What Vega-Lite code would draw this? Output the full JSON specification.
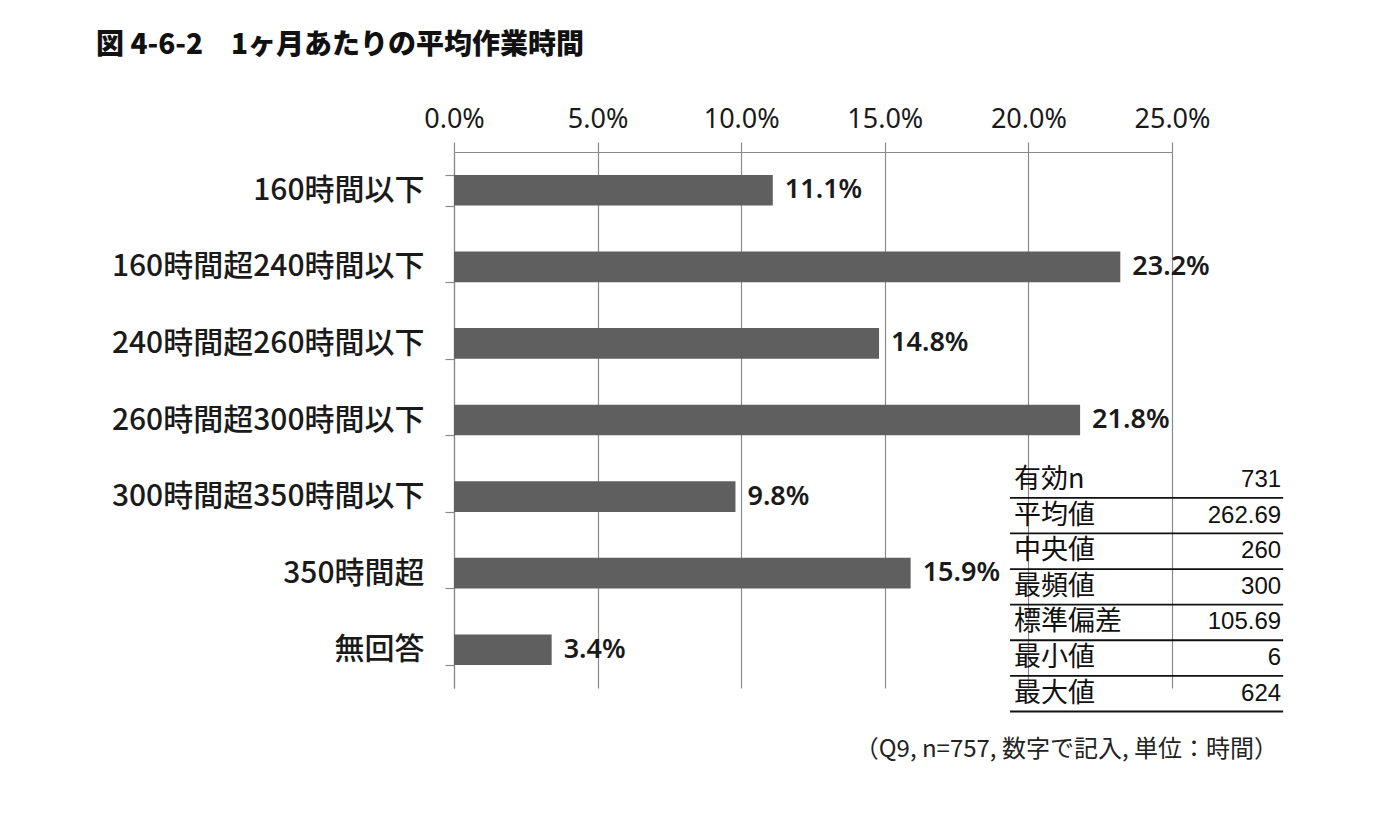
{
  "$schema": "https://vega.github.io/schema/vega-lite/v6.json",
  "autosize": "none",
  "width": 718,
  "height": 536,
  "padding": {"left": 454, "top": 152, "right": 208, "bottom": 126},
  "background": "white",
  "config": {"view": {"stroke": null}, "font": "Noto Sans CJK JP"},
  "title": {
    "text": "図 4-6-2　1ヶ月あたりの平均作業時間",
    "anchor": "start",
    "frame": "group",
    "dx": -358,
    "dy": -41,
    "fontSize": 28,
    "fontWeight": 900,
    "color": "#111111",
    "font": "Noto Sans CJK JP"
  },
  "datasets": {
    "bars": [
      {"category": "160時間以下", "pct": 0.111},
      {"category": "160時間超240時間以下", "pct": 0.232},
      {"category": "240時間超260時間以下", "pct": 0.148},
      {"category": "260時間超300時間以下", "pct": 0.218},
      {"category": "300時間超350時間以下", "pct": 0.098},
      {"category": "350時間超", "pct": 0.159},
      {"category": "無回答", "pct": 0.034}
    ],
    "table": [
      {"row": 1, "label": "有効n", "value": "731"},
      {"row": 2, "label": "平均値", "value": "262.69"},
      {"row": 3, "label": "中央値", "value": "260"},
      {"row": 4, "label": "最頻値", "value": "300"},
      {"row": 5, "label": "標準偏差", "value": "105.69"},
      {"row": 6, "label": "最小値", "value": "6"},
      {"row": 7, "label": "最大値", "value": "624"}
    ],
    "note": [
      {"note": "（Q9, n=757, 数字で記入, 単位：時間）"}
    ]
  },
  "layer": [
    {
      "data": {"name": "bars"},
      "encoding": {
        "y": {
          "field": "category",
          "type": "nominal",
          "sort": null,
          "scale": {"paddingInner": 0.6, "paddingOuter": 0.3},
          "axis": {
            "title": null,
            "tickBand": "extent",
            "domainColor": "#8a8a8a",
            "domainWidth": 1.2,
            "tickColor": "#8a8a8a",
            "tickSize": 9,
            "tickWidth": 1.2,
            "labelFontSize": 30,
            "labelFont": "Noto Sans CJK JP",
            "labelFontWeight": 500,
            "labelColor": "#1a1a1a",
            "labelPadding": 21,
            "labelLimit": 0
          }
        },
        "x": {
          "field": "pct",
          "type": "quantitative",
          "scale": {"domain": [0, 0.25], "nice": false},
          "axis": {
            "orient": "top",
            "title": null,
            "values": [0, 0.05, 0.1, 0.15, 0.2, 0.25],
            "format": ".1%",
            "grid": true,
            "gridColor": "#8a8a8a",
            "gridWidth": 1.2,
            "domainColor": "#8a8a8a",
            "domainWidth": 1.2,
            "tickColor": "#8a8a8a",
            "tickSize": 10,
            "tickWidth": 1.2,
            "labelFontSize": 27,
            "labelFont": "Noto Sans",
            "labelColor": "#1a1a1a",
            "labelPadding": 9,
            "labelFlush": false,
            "labelOverlap": false
          }
        }
      },
      "layer": [
        {"mark": {"type": "bar", "color": "#5f5f5f"}},
        {
          "mark": {"type": "text", "align": "left", "baseline": "middle", "dx": 12, "fontSize": 27, "font": "Noto Sans", "fontWeight": 600, "color": "#1a1a1a"},
          "encoding": {"text": {"field": "pct", "type": "quantitative", "format": ".1%"}}
        }
      ]
    },
    {
      "data": {"name": "table"},
      "encoding": {
        "y": {
          "field": "row",
          "type": "quantitative",
          "scale": {"domain": [-8.21, 6.84], "reverse": true, "nice": false, "zero": false},
          "axis": null
        }
      },
      "layer": [
        {
          "data": {"values": [{}]},
          "mark": {"type": "rect", "color": "white", "clip": false},
          "encoding": {
            "x": {"datum": 0.1936, "type": "quantitative", "scale": {"domain": [0, 0.25], "nice": false}},
            "x2": {"datum": 0.2887},
            "y": {"datum": 0.5, "type": "quantitative"},
            "y2": {"datum": 7.5}
          }
        },
        {
          "mark": {"type": "rule", "color": "#111111", "strokeWidth": 1.8, "yOffset": 17.8, "clip": false},
          "encoding": {
            "x": {"datum": 0.1936, "type": "quantitative"},
            "x2": {"datum": 0.2887}
          }
        },
        {
          "data": {"values": [{}]},
          "mark": {"type": "rule", "color": "#111111", "strokeWidth": 1.8, "clip": false},
          "encoding": {
            "x": {"datum": 0.1936, "type": "quantitative"},
            "x2": {"datum": 0.2887},
            "y": {"datum": 0.5, "type": "quantitative"}
          }
        },
        {
          "mark": {"type": "text", "align": "left", "baseline": "middle", "fontSize": 27, "font": "Noto Sans CJK JP", "color": "#111111", "clip": false},
          "encoding": {
            "x": {"datum": 0.195, "type": "quantitative"},
            "text": {"field": "label"}
          }
        },
        {
          "mark": {"type": "text", "align": "right", "baseline": "middle", "fontSize": 24, "font": "Liberation Sans", "color": "#111111", "clip": false},
          "encoding": {
            "x": {"datum": 0.288, "type": "quantitative"},
            "text": {"field": "value"}
          }
        }
      ]
    },
    {
      "data": {"name": "note"},
      "mark": {"type": "text", "align": "right", "baseline": "middle", "fontSize": 24, "font": "Noto Sans CJK JP", "color": "#222222", "clip": false},
      "encoding": {
        "x": {"datum": 0.2869, "type": "quantitative"},
        "y": {"datum": 8.58, "type": "quantitative", "scale": {"domain": [-8.21, 6.84], "reverse": true, "nice": false, "zero": false}, "axis": null},
        "text": {"field": "note"}
      }
    }
  ],
  "resolve": {"scale": {"y": "independent"}, "axis": {"y": "independent"}}
}
